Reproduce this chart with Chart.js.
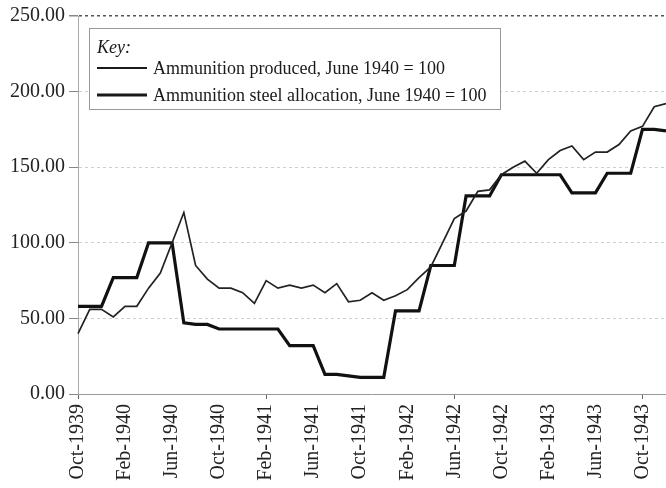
<!DOCTYPE html>
<html><head><meta charset="utf-8">
<script src="https://cdn.jsdelivr.net/npm/chart.js@4/dist/chart.umd.min.js"></script>
<style>html,body{margin:0;padding:0;background:#fff;}#wrap{width:666px;height:488px;}</style>
</head><body><div id="wrap"><canvas id="c" width="666" height="488"></canvas></div>
<script>
const months = [
 "Oct-1939","Nov-1939","Dec-1939",
 "Jan-1940","Feb-1940","Mar-1940","Apr-1940","May-1940","Jun-1940","Jul-1940","Aug-1940","Sep-1940","Oct-1940","Nov-1940","Dec-1940",
 "Jan-1941","Feb-1941","Mar-1941","Apr-1941","May-1941","Jun-1941","Jul-1941","Aug-1941","Sep-1941","Oct-1941","Nov-1941","Dec-1941",
 "Jan-1942","Feb-1942","Mar-1942","Apr-1942","May-1942","Jun-1942","Jul-1942","Aug-1942","Sep-1942","Oct-1942","Nov-1942","Dec-1942",
 "Jan-1943","Feb-1943","Mar-1943","Apr-1943","May-1943","Jun-1943","Jul-1943","Aug-1943","Sep-1943","Oct-1943","Nov-1943","Dec-1943"
];
const produced = [
 40, 56, 56,
 51, 58, 58, 70, 80, 100, 120, 85, 76, 70, 70, 67,
 60, 75, 70, 72, 70, 72, 67, 73, 61, 62, 67, 62,
 65, 69, 77, 84, 100, 116, 121, 134, 135, 145, 150, 154,
 146, 155, 161, 164, 155, 160, 160, 165, 174, 177, 190, 192
];
const allocation = [
 58, 58, 58,
 77, 77, 77, 100, 100, 100, 47, 46, 46, 43, 43, 43,
 43, 43, 43, 32, 32, 32, 13, 13, 12, 11, 11, 11,
 55, 55, 55, 85, 85, 85, 131, 131, 131, 145, 145, 145,
 145, 145, 145, 133, 133, 133, 146, 146, 146, 175, 175, 174
];
const seriesNames = ["Ammunition produced, June 1940 = 100", "Ammunition steel allocation, June 1940 = 100"];
const legendTitle = "Key:";
const yMin = 0, yMax = 250, yStep = 50;
const labelEvery = 4;

const serif = '"Liberation Serif", "Times New Roman", serif';

const keyPlugin = {
  id: 'keyBox',
  afterDatasetsDraw(chart) {
    const ctx = chart.ctx, a = chart.chartArea;
    const x0 = a.left + 11, y0 = a.top + 12, w = 411, h = 81;
    ctx.save();
    ctx.fillStyle = '#fff';
    ctx.fillRect(x0, y0, w, h);
    ctx.strokeStyle = '#999';
    ctx.lineWidth = 1;
    ctx.strokeRect(x0 + 0.5, y0 + 0.5, w, h);
    ctx.fillStyle = '#1a1a1a';
    ctx.font = 'italic 18px ' + serif;
    ctx.textBaseline = 'alphabetic';
    ctx.textAlign = 'left';
    ctx.fillText(legendTitle, x0 + 8, y0 + 25);
    chart.data.datasets.forEach((ds, i) => {
      const yy = y0 + 40 + i * 27;
      ctx.strokeStyle = '#1a1a1a';
      ctx.lineWidth = i === 0 ? 2.2 : 3;
      ctx.beginPath(); ctx.moveTo(x0 + 8, yy); ctx.lineTo(x0 + 58, yy); ctx.stroke();
      ctx.font = '18px ' + serif;
      ctx.textBaseline = 'middle';
      ctx.fillText(ds.label, x0 + 64, yy + 1);
    });
    ctx.restore();
  }
};

new Chart(document.getElementById('c'), {
  type: 'line',
  data: {
    labels: months,
    datasets: [
      { label: seriesNames[0], data: produced, borderColor: '#222', borderWidth: 1.7, pointRadius: 0, tension: 0, fill: false },
      { label: seriesNames[1], data: allocation, borderColor: '#111', borderWidth: 3.2, pointRadius: 0, tension: 0, fill: false }
    ]
  },
  options: {
    responsive: false,
    animation: false,
    devicePixelRatio: 1,
    layout: { padding: { top: 15, right: 0, left: 0, bottom: 0 } },
    plugins: { legend: { display: false }, tooltip: { enabled: false } },
    scales: {
      x: {
        offset: false,
        grid: { drawOnChartArea: false, drawTicks: true, tickLength: 5,
                tickColor: c => (c.index % labelEvery === 0 ? '#666' : 'rgba(0,0,0,0)') },
        border: { display: true, color: '#999', width: 1 },
        ticks: {
          autoSkip: false, maxRotation: 90, minRotation: 90, padding: 5,
          color: '#222', font: { family: serif, size: 20 },
          callback: function(v, i) { return i % labelEvery === 0 ? this.getLabelForValue(v) : null; }
        },
        afterFit: s => { s.height = 94; s.paddingRight = 0; s.paddingLeft = 0; }
      },
      y: {
        min: yMin, max: yMax,
        grid: { color: c => (c.tick && c.tick.value === yMax ? '#555' : '#cfcfcf'), lineWidth: c => (c.tick && c.tick.value === yMax ? 1.5 : 1),
                tickLength: 9, tickColor: '#888' },
        border: { display: true, color: '#aaa', width: 1, dash: [3, 3] },
        ticks: { stepSize: yStep, padding: 4, color: '#222', font: { family: serif, size: 20 },
                 callback: v => Number(v).toFixed(2) },
        afterFit: s => { s.width = 78; }
      }
    }
  },
  plugins: [keyPlugin]
});
</script>
</body></html>
